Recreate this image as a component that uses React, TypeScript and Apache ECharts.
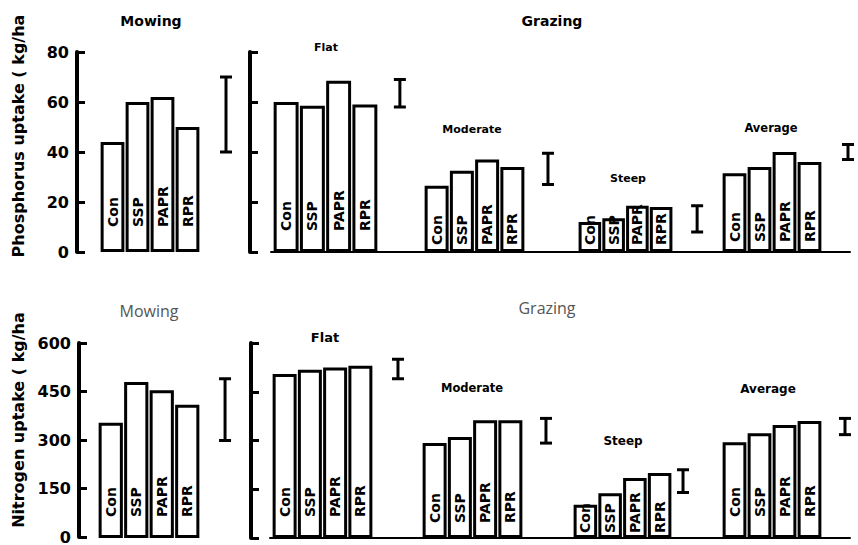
import React, { useEffect, useRef } from 'react';
import * as echarts from 'echarts';

// ---------- data ----------
const treatments = ['Con', 'SSP', 'PAPR', 'RPR'];
const groupNames = ['Mowing', 'Flat', 'Moderate', 'Steep', 'Average'];

// Phosphorus uptake (kg/ha)
const pMowing = [44, 60, 62, 50];
const pFlat = [60, 58.5, 68.5, 59];
const pModerate = [26.5, 32.5, 37, 34];
const pSteep = [12, 13.5, 18.5, 18];
const pAverage = [31.5, 34, 40, 36];
const pLSD = [[40, 70], [58, 69], [27, 39.5], [8, 18.5], [37, 43]];
const pAxis = { max: 80, interval: 20 };

// Nitrogen uptake (kg/ha)
const nMowing = [355, 480, 455, 410];
const nFlat = [505, 518, 525, 530];
const nModerate = [292, 311, 362, 362];
const nSteep = [102, 138, 185, 200];
const nAverage = [295, 322, 348, 360];
const nLSD = [[300, 490], [490, 550], [292, 368], [140, 210], [318, 368]];
const nAxis = { max: 600, interval: 150 };

const pValues = [pMowing, pFlat, pModerate, pSteep, pAverage];
const nValues = [nMowing, nFlat, nModerate, nSteep, nAverage];

// ---------- layout (pixels / styles only) ----------
const FONT = '"DejaVu Sans", sans-serif';
const rows = [
  {
    values: pValues, lsd: pLSD, axis: pAxis,
    top: 52, height: 200, mowAxis: 77, grazeAxis: 250, baseLeft: 271,
    bars: [[100, 100], [273, 105], [424, 101], [578, 95], [722, 100]],
    errOffset: [38.5, 35, 35.6, 36, 38.5],
    labelDist: [25, 21, 7, 7, 10],
  },
  {
    values: nValues, lsd: nLSD, axis: nAxis,
    top: 343, height: 195, mowAxis: 79, grazeAxis: 251, baseLeft: 270,
    bars: [[98, 102], [272, 101], [422, 101], [573, 99], [722, 100]],
    errOffset: [37.8, 37.6, 35.6, 23.4, 35.5],
    labelDist: [21, 21, 15, 5, 21],
  },
];

function buildOption() {
  const grid: any[] = [];
  const xAxis: any[] = [];
  const yAxis: any[] = [];
  const series: any[] = [];

  rows.forEach((r) => {
    const yBase = { type: 'value', min: 0, max: r.axis.max, interval: r.axis.interval };

    // mowing y axis with labels
    let gi = grid.length;
    grid.push({ left: r.mowAxis, top: r.top, width: 10, height: r.height });
    xAxis.push({ gridIndex: gi, type: 'category', data: treatments, show: false });
    yAxis.push({
      ...yBase, gridIndex: gi,
      splitLine: { show: false },
      axisLine: { show: true, lineStyle: { color: '#000', width: 4 } },
      axisTick: { show: true, inside: true, length: 8, lineStyle: { color: '#000', width: 3 } },
      axisLabel: { margin: 8, color: '#000', fontFamily: FONT, fontWeight: 'bold', fontSize: 16 },
    });

    // grazing y axis, no labels
    gi = grid.length;
    grid.push({ left: r.grazeAxis, top: r.top, width: 10, height: r.height });
    xAxis.push({ gridIndex: gi, type: 'category', data: treatments, show: false });
    yAxis.push({
      ...yBase, gridIndex: gi,
      splitLine: { show: false },
      axisLine: { show: true, lineStyle: { color: '#000', width: 4 } },
      axisTick: { show: true, inside: true, length: 8, lineStyle: { color: '#000', width: 3 } },
      axisLabel: { show: false },
    });

    // grazing baseline
    gi = grid.length;
    grid.push({ left: r.baseLeft, top: r.top, width: 850 - r.baseLeft, height: r.height });
    xAxis.push({
      gridIndex: gi, type: 'category', data: treatments,
      axisLine: { show: true, lineStyle: { color: '#000', width: 2 } },
      axisTick: { show: false }, axisLabel: { show: false },
    });
    yAxis.push({ ...yBase, gridIndex: gi, show: false, splitLine: { show: false } });

    // bar groups
    r.values.forEach((vals, k) => {
      const g = grid.length;
      grid.push({ left: r.bars[k][0], top: r.top, width: r.bars[k][1], height: r.height });
      xAxis.push({ gridIndex: g, type: 'category', data: treatments, show: false });
      yAxis.push({ ...yBase, gridIndex: g, show: false, splitLine: { show: false } });
      series.push({
        name: groupNames[k],
        type: 'bar',
        xAxisIndex: g, yAxisIndex: g,
        data: vals,
        barCategoryGap: '5%',
        itemStyle: { color: '#fff', borderColor: '#000', borderWidth: 3 },
        label: {
          show: true,
          formatter: (p: any) => p.name,
          position: 'insideBottom',
          rotate: 90,
          align: 'left',
          verticalAlign: 'middle',
          distance: r.labelDist[k],
          color: '#000',
          fontFamily: FONT,
          fontWeight: 'bold',
          fontSize: 14,
        },
      });
      const off = r.errOffset[k];
      series.push({
        type: 'custom',
        xAxisIndex: g, yAxisIndex: g,
        clip: false,
        silent: true,
        data: [[3, r.lsd[k][0], r.lsd[k][1]]],
        encode: { x: 0, y: [1, 2] },
        renderItem: (params: any, api: any) => {
          const c = api.value(0);
          const x = api.coord([c, 0])[0] + off;
          const y1 = api.coord([c, api.value(1)])[1];
          const y2 = api.coord([c, api.value(2)])[1];
          const hw = 6;
          const style = { stroke: '#000', lineWidth: 3 };
          return {
            type: 'group',
            children: [
              { type: 'line', shape: { x1: x, y1: y1, x2: x, y2: y2 }, style },
              { type: 'line', shape: { x1: x - hw, y1: y1, x2: x + hw, y2: y1 }, style },
              { type: 'line', shape: { x1: x - hw, y1: y2, x2: x + hw, y2: y2 }, style },
            ],
          };
        },
      });
    });
  });

  const txt = (text: string, x: number, y: number, size: number, weight: string, fill = '#000', family = FONT, rotation = 0) => ({
    type: 'text', x, y, rotation, silent: true,
    style: {
      text, fill, fontSize: size, fontWeight: weight, fontFamily: family,
      textAlign: 'center', textVerticalAlign: 'middle', align: 'center', verticalAlign: 'middle',
    },
  });

  const graphic = [
    txt('Phosphorus uptake ( kg/ha', 18, 136, 16, 'bold', '#000', FONT, Math.PI / 2),
    txt('Nitrogen uptake ( kg/ha', 18, 420, 16, 'bold', '#000', FONT, Math.PI / 2),
    txt('Mowing', 151, 21, 14, 'bold'),
    txt('Grazing', 552, 21, 14, 'bold'),
    txt('Flat', 326, 47, 11, 'bold'),
    txt('Moderate', 472, 129, 11, 'bold'),
    txt('Steep', 628, 178, 11, 'bold'),
    txt('Average', 771, 128, 11.5, 'bold'),
    txt('Mowing', 149, 311, 16, 'normal', '#555', '"Open Sans", sans-serif'),
    txt('Grazing', 547, 308, 16, 'normal', '#555', '"Open Sans", sans-serif'),
    txt('Flat', 325, 337, 13, 'bold'),
    txt('Moderate', 472, 388, 11.5, 'bold'),
    txt('Steep', 623, 441, 12, 'bold'),
    txt('Average', 768, 389, 12, 'bold'),
  ];

  return {
    animation: false,
    backgroundColor: '#fff',
    grid, xAxis, yAxis, series, graphic,
  };
}

export default function App() {
  const ref = useRef<HTMLDivElement>(null);
  useEffect(() => {
    if (!ref.current) return;
    const chart = echarts.init(ref.current, null, { renderer: 'svg' });
    chart.setOption(buildOption() as any);
    return () => chart.dispose();
  }, []);
  return (
    <div
      ref={ref}
      style={{ position: 'fixed', left: 0, top: 0, width: 858, height: 545, background: '#fff' }}
    />
  );
}
